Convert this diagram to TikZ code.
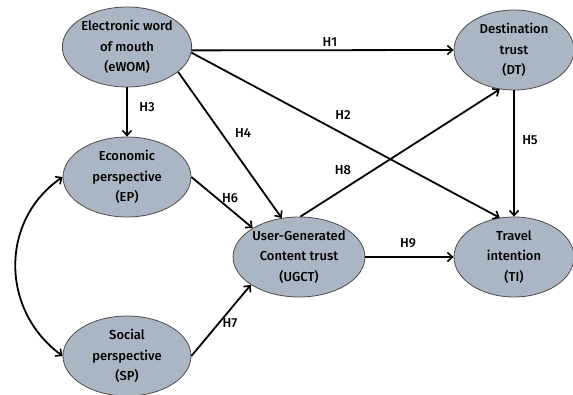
\documentclass[tikz,border=0pt]{standalone}
\usepackage{fontspec}
\setmainfont{Fira Sans}[UprightFont=* Medium]
\usepackage{tikz}
\usetikzlibrary{arrows.meta, shapes.geometric}
\definecolor{construct}{RGB}{170,182,195}

\begin{document}
\begin{tikzpicture}
      [
        x=1pt, y=-1pt,
        construct/.style={ellipse, draw=black!70, line width=0.8pt, fill=construct,
          minimum width=128pt, minimum height=80pt, inner sep=0pt, align=center,
          font=\fontsize{13}{20.5}\selectfont},
        path/.style={line width=1.8pt, -{Straight Barb[length=5pt,width=9pt,line width=1.6pt]}},
        hyp/.style={font=\fontsize{13}{15}\selectfont}
      ]
      \useasboundingbox (0,0) rectangle (573,395);
      % constructs
      \node [construct] (ewom) at (127,47) {Electronic word\\of mouth\\(eWOM)};
      \node [construct] (ep) at (127,177) {Economic\\perspective\\(EP)};
      \node [construct] (sp) at (127,356) {Social\\perspective\\(SP)};
      \node [construct] (ugct) at (299,257) {User-Generated\\Content trust\\(UGCT)};
      \node [construct, minimum width=120pt] (dt) at (514,50) {Destination\\trust\\(DT)};
      \node [construct, minimum width=120pt] (ti) at (514,257) {Travel\\intention\\(TI)};
      % hypotheses
      \node [hyp] (h1) at (330,42) {H1};
      \node [hyp] (h2) at (343,115) {H2};
      \node [hyp] (h3) at (147,107) {H3};
      \node [hyp] (h4) at (243,133) {H4};
      \node [hyp] (h5) at (530,140) {H5};
      \node [hyp] (h6) at (230,198) {H6};
      \node [hyp] (h7) at (230,323) {H7};
      \node [hyp] (h8) at (343,170) {H8};
      \node [hyp] (h9) at (408,243) {H9};
      % paths
      \draw [path] (ewom.-3) -- (dt.west);
      \draw [path] (ewom.-5) -- (ti.110);
      \draw [path] (ewom) -- (ep);
      \draw [path] (ewom.-26) -- (ugct.114);
      \draw [path] (dt) -- (ti);
      \draw [path] (ep.east) -- (ugct.148);
      \draw [path] (sp.east) -- (ugct.210);
      \draw [path] (ugct.88) -- (dt.250);
      \draw [path] (ugct) -- (ti);
      % correlation
      \draw [path, {Straight Barb[length=5pt,width=9pt,line width=1.6pt]}-{Straight Barb[length=5pt,width=9pt,line width=1.6pt]}]
      (ep.west) .. controls (0,220) and (0,310) .. (sp.west);
    \end{tikzpicture}
\end{document}
